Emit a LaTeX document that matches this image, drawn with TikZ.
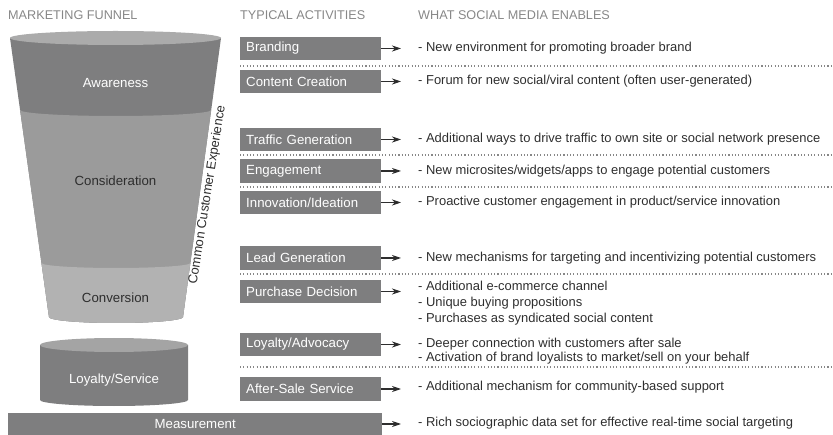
\documentclass[tikz,border=0pt]{standalone}
\usepackage{fontspec}
\setmainfont{Liberation Sans}
\usepackage{xcolor}
\usepackage{tikz}
\usetikzlibrary{arrows.meta}

\definecolor{boxgray}{HTML}{7E7E7F}
\definecolor{fmid}{HTML}{9B9B9B}
\definecolor{flow}{HTML}{B2B2B2}
\definecolor{ftop}{HTML}{ABABAB}
\definecolor{ctop}{HTML}{A4A4A4}
\definecolor{txtgray}{HTML}{2E2E2E}
\definecolor{headgray}{HTML}{878787}

\tikzset{
  act/.style={anchor=west,fill=boxgray,text=white,text width=129bp,inner xsep=6bp,
    inner ysep=0pt,minimum height=23.5bp,align=left,font=\fontsize{13.3}{15}\selectfont},
  enab/.style={anchor=west,inner sep=0pt,text=txtgray,align=left,font=\fontsize{13}{16}\selectfont},
  head/.style={anchor=west,inner sep=0pt,text=headgray,font=\fontsize{12.7}{14}\selectfont},
  dotsep/.style={headgray,line width=1.1bp,dash pattern=on 1.1bp off 2.2bp},
}

\begin{document}
\begin{tikzpicture}[x=1bp,y=1bp]
	\useasboundingbox (0,0) rectangle (833,-435);
	%
	%  FUNNEL
	%
	\begin{scope}
	\clip (10,-38) -- (49,-317) arc[start angle=180,end angle=360,x radius=67,y radius=6] -- (221,-38) -- cycle;
	\fill[boxgray] (0,0) rectangle (240,-340);
	\fill[fmid] (0,-110) -- (20.1,-110) arc[start angle=180,end angle=360,x radius=95.55,y radius=6]
		-- (240,-110) -- (240,-340) -- (0,-340) -- cycle;
	\fill[flow] (0,-263) -- (41.5,-263) arc[start angle=180,end angle=360,x radius=74.45,y radius=5]
		-- (240,-263) -- (240,-340) -- (0,-340) -- cycle;
	\end{scope}
	\fill[ftop] (115.5,-38) ellipse[x radius=105.5,y radius=7];
	%
	\fill[boxgray] (40,-345) -- (40,-400) arc[start angle=180,end angle=360,x radius=74,y radius=6] -- (188,-345) -- cycle;
	\fill[ctop] (114,-345) ellipse[x radius=74,y radius=7];
	%
	\node[text=white,font=\fontsize{13.3}{15}\selectfont] (F1) at (115.5,-83) {Awareness};
	\node[text=txtgray,font=\fontsize{13.3}{15}\selectfont] (F2) at (115.5,-181) {Consideration};
	\node[text=txtgray,font=\fontsize{13.3}{15}\selectfont] (F3) at (115.5,-298) {Conversion};
	\node[text=white,font=\fontsize{13.3}{15}\selectfont] (F4) at (114,-380) {Loyalty/Service};
	\node[text=txtgray,rotate=81,inner sep=0pt,font=\fontsize{13}{15}\selectfont] (C) at (207.5,-195) {Common Customer Experience};
	%
	%  HEADERS
	%
	\node[head] (H1) at (8,-15) {MARKETING FUNNEL};
	\node[head] (H2) at (240,-15) {TYPICAL ACTIVITIES};
	\node[head] (H3) at (418,-15) {WHAT SOCIAL MEDIA ENABLES};
	%
	%  ACTIVITIES
	%
	\node[act] (A1) at (240,-48.5) {Branding};
	\node[act] (A2) at (240,-81.5) {Content Creation};
	\node[act] (A3) at (240,-139.5) {Traffic Generation};
	\node[act] (A4) at (240,-171) {Engagement};
	\node[act] (A5) at (240,-202.5) {Innovation/Ideation};
	\node[act] (A6) at (240,-258) {Lead Generation};
	\node[act] (A7) at (240,-291.5) {Purchase Decision};
	\node[act] (A8) at (240,-344.5) {Loyalty/Advocacy};
	\node[act] (A9) at (240,-389) {After-Sale Service};
	\node[act,text width=362bp,align=center,minimum height=22bp] (M) at (8,-424) {Measurement};
	%
	%  ENABLES
	%
	\node[enab] (E1) at (418,-48) {- New environment for promoting broader brand};
	\node[enab] (E2) at (418,-81) {- Forum for new social/viral content (often user-generated)};
	\node[enab] (E3) at (418,-139) {- Additional ways to drive traffic to own site or social network presence};
	\node[enab] (E4) at (418,-171) {- New microsites/widgets/apps to engage potential customers};
	\node[enab] (E5) at (418,-202) {- Proactive customer engagement in product/service innovation};
	\node[enab] (E6) at (418,-258) {- New mechanisms for targeting and incentivizing potential customers};
	\node[enab] (E7) at (418,-303) {- Additional e-commerce channel\\- Unique buying propositions\\- Purchases as syndicated social content};
	\node[enab,font=\fontsize{13}{14.5}\selectfont] (E8) at (418,-351) {- Deeper connection with customers after sale\\- Activation of brand loyalists to market/sell on your behalf};
	\node[enab] (E9) at (418,-387) {- Additional mechanism for community-based support};
	\node[enab] (E10) at (418,-423) {- Rich sociographic data set for effective real-time social targeting};
	%
	%  SEPARATORS
	%
	\foreach \y in {66,155,187,274,367}
		\draw[dotsep] (240,-\y) -- (833,-\y);
	%
	\path[-{Stealth[length=9bp,width=6bp]},draw=txtgray,line width=1.1bp,shorten >=17bp]
	(A1.east) edge (A1.east -| E1.west)
	(A2.east) edge (A2.east -| E2.west)
	(A3.east) edge (A3.east -| E3.west)
	(A4.east) edge (A4.east -| E4.west)
	(A5.east) edge (A5.east -| E5.west)
	(A6.east) edge (A6.east -| E6.west)
	(A7.east) edge (A7.east -| E7.west)
	(A8.east) edge (A8.east -| E8.west)
	(A9.east) edge (A9.east -| E9.west)
	(M.east) edge (M.east -| E10.west);
\end{tikzpicture}
\end{document}
